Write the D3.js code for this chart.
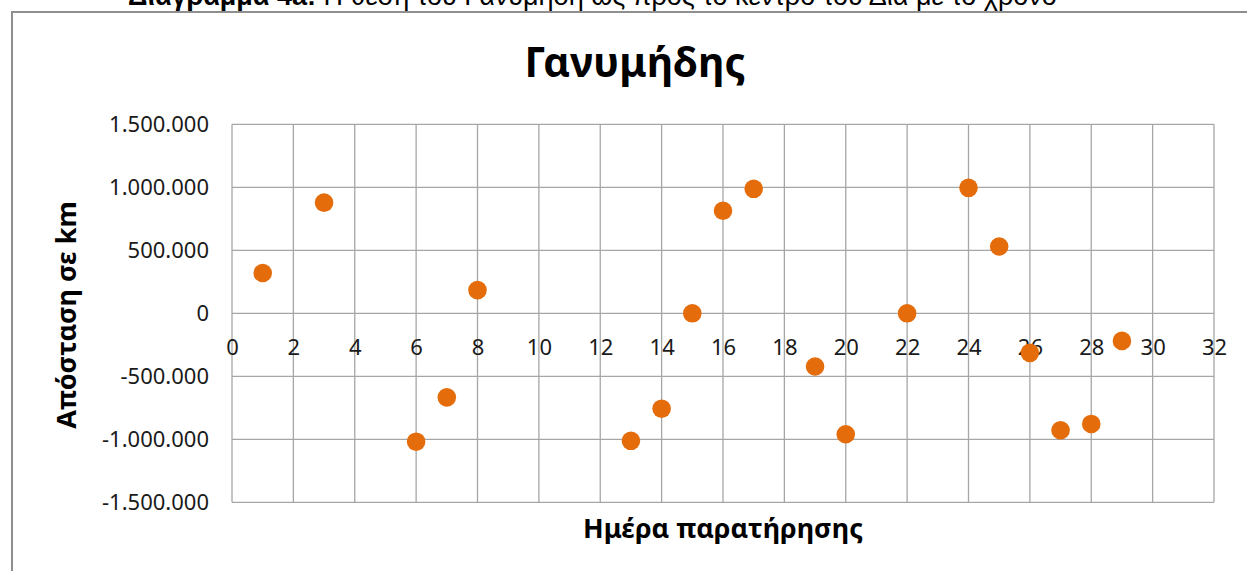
<!DOCTYPE html>
<html>
<head>
<meta charset="utf-8">
<script src="https://cdn.jsdelivr.net/npm/d3@7"></script>
<style>
  html, body { margin: 0; padding: 0; background: #fff; }
  svg { display: block; }
</style>
</head>
<body>
<svg id="chart" width="1247" height="571"></svg>
<script>
// ---- Data ----
const days = [1, 3, 6, 7, 8, 13, 14, 15, 16, 17, 19, 20, 22, 24, 25, 26, 27, 28, 29];
const distances = [320000, 878000, -1019000, -667000, 184000, -1012000, -757000, 0, 814000, 988000,
                   -422000, -960000, 0, 996000, 530000, -314000, -928000, -878000, -219000];
const xTicks = [0, 2, 4, 6, 8, 10, 12, 14, 16, 18, 20, 22, 24, 26, 28, 30, 32];
const yTicks = [-1500000, -1000000, -500000, 0, 500000, 1000000, 1500000];
const captionBold = "Διάγραμμα 4a:";
const captionText = " Η θέση του Γανυμήδη ως προς το κέντρο του Δία με το χρόνο";
const chartTitle = "Γανυμήδης";
const xTitle = "Ημέρα παρατήρησης";
const yTitle = "Απόσταση σε km";

// ---- Layout ----
const svg = d3.select("#chart");
const plot = { left: 232, right: 1214, top: 124.3, bottom: 502.3 };
const x = d3.scaleLinear().domain([0, 32]).range([plot.left, plot.right]);
const y = d3.scaleLinear().domain([-1500000, 1500000]).range([plot.bottom, plot.top]);
const fmt = v => d3.format(",")(v).replace(/,/g, ".").replace("−", "-");
const gridColor = "#a6a6a6";
const font = "'Noto Sans', 'Open Sans', sans-serif";

// caption (cut off at top, as in the source page)
const cap = svg.append("text")
  .attr("x", 128).attr("y", 5)
  .attr("font-family", "'Liberation Sans', Arial, sans-serif")
  .attr("font-size", 27).attr("fill", "#000");
cap.append("tspan").attr("font-weight", "bold").text(captionBold);
cap.append("tspan").text(captionText);

// outer chart frame
svg.append("rect")
  .attr("x", 12).attr("y", 12)
  .attr("width", 1300).attr("height", 700)
  .attr("fill", "#fff")
  .attr("stroke", "#8f8f8f").attr("stroke-width", 2);

// gridlines
svg.append("g").selectAll("line.h").data(yTicks).join("line")
  .attr("x1", plot.left).attr("x2", plot.right)
  .attr("y1", d => y(d)).attr("y2", d => y(d))
  .attr("stroke", gridColor).attr("stroke-width", 1.3);
svg.append("g").selectAll("line.v").data(xTicks).join("line")
  .attr("y1", plot.top).attr("y2", plot.bottom)
  .attr("x1", d => x(d)).attr("x2", d => x(d))
  .attr("stroke", gridColor).attr("stroke-width", 1.3);

// y axis labels
const yAxis = d3.axisLeft(y).tickValues(yTicks).tickFormat(fmt).tickSize(0).tickPadding(23);
const yg = svg.append("g").attr("transform", `translate(${plot.left},0)`).call(yAxis);
yg.select(".domain").remove();
yg.selectAll("text").attr("font-family", font).attr("font-size", 22).attr("fill", "#1a1a1a");

// x axis labels (axis crosses at y=0)
const xAxis = d3.axisBottom(x).tickValues(xTicks).tickFormat(d3.format("d")).tickSize(0).tickPadding(26);
const xg = svg.append("g").attr("transform", `translate(0,${y(0)})`).call(xAxis);
xg.select(".domain").remove();
xg.selectAll("text").attr("font-family", font).attr("font-size", 22).attr("fill", "#1a1a1a");

// points
svg.append("g").selectAll("circle").data(days.map((d, i) => [d, distances[i]])).join("circle")
  .attr("cx", d => x(d[0])).attr("cy", d => y(d[1]))
  .attr("r", 9.3).attr("fill", "#e46c0a");

// titles
svg.append("text").attr("x", 635).attr("y", 77).attr("text-anchor", "middle")
  .attr("font-family", font).attr("font-weight", "bold").attr("font-size", 41).attr("fill", "#000")
  .text(chartTitle);
svg.append("text").attr("x", (plot.left + plot.right) / 2).attr("y", 538).attr("text-anchor", "middle")
  .attr("font-family", font).attr("font-weight", "bold").attr("font-size", 27).attr("fill", "#000")
  .text(xTitle);
svg.append("text").attr("transform", "translate(76,315) rotate(-90)").attr("text-anchor", "middle")
  .attr("font-family", font).attr("font-weight", "bold").attr("font-size", 27).attr("fill", "#000")
  .text(yTitle);
</script>
</body>
</html>
